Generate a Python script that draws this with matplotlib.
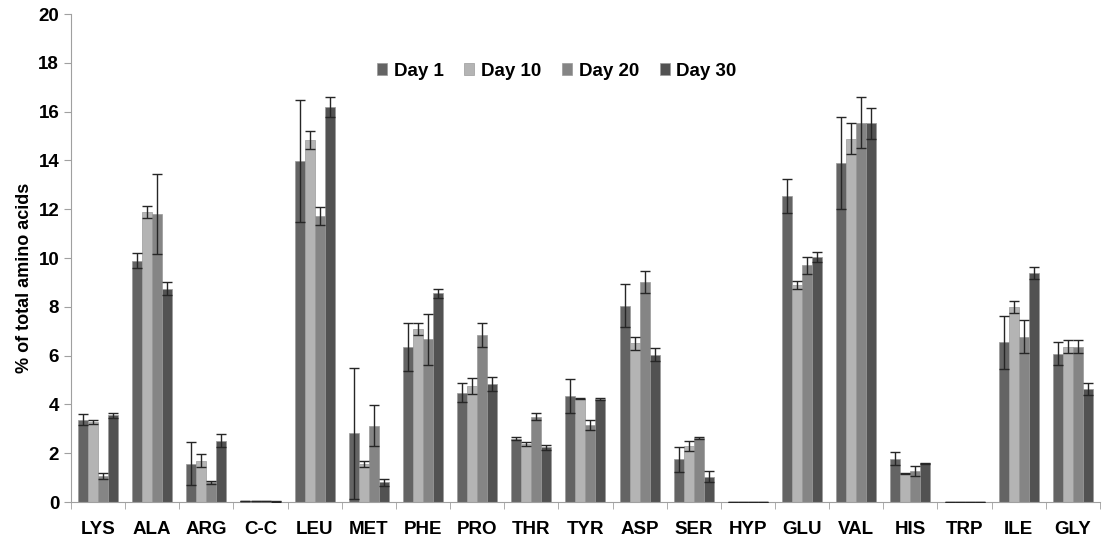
import numpy as np
import matplotlib
matplotlib.use("Agg")
from matplotlib import pyplot as plt

amino = ['LYS', 'ALA', 'ARG', 'C-C', 'LEU', 'MET', 'PHE', 'PRO', 'THR', 'TYR',
         'ASP', 'SER', 'HYP', 'GLU', 'VAL', 'HIS', 'TRP', 'ILE', 'GLY']

day1 = [3.38, 9.9, 1.57, 0.05, 13.98, 2.81, 6.37, 4.48, 2.6, 4.34,
        8.05, 1.75, 0.02, 12.54, 13.9, 1.78, 0.02, 6.54, 6.07]
day10 = [3.28, 11.9, 1.7, 0.05, 14.84, 1.55, 7.1, 4.75, 2.38, 4.23,
         6.5, 2.3, 0.02, 8.9, 14.9, 1.18, 0.02, 7.98, 6.37]
day20 = [1.08, 11.8, 0.8, 0.05, 11.72, 3.13, 6.67, 6.84, 3.5, 3.16,
         9.0, 2.63, 0.02, 9.71, 15.55, 1.28, 0.02, 6.78, 6.37]
day30 = [3.55, 8.75, 2.52, 0.03, 16.2, 0.8, 8.55, 4.84, 2.24, 4.23,
         6.04, 1.04, 0.02, 10.05, 15.52, 1.59, 0.02, 9.4, 4.62]

err1 = [0.24, 0.3, 0.88, 0.01, 2.5, 2.7, 0.98, 0.38, 0.05, 0.7,
        0.87, 0.52, 0.0, 0.7, 1.9, 0.28, 0.0, 1.1, 0.47]
err10 = [0.1, 0.25, 0.25, 0.01, 0.38, 0.12, 0.25, 0.32, 0.1, 0.02,
         0.25, 0.22, 0.0, 0.15, 0.65, 0.02, 0.0, 0.24, 0.27]
err20 = [0.12, 1.65, 0.05, 0.01, 0.38, 0.85, 1.05, 0.5, 0.15, 0.22,
         0.45, 0.03, 0.0, 0.35, 1.05, 0.2, 0.0, 0.68, 0.27]
err30 = [0.1, 0.28, 0.25, 0.01, 0.4, 0.15, 0.2, 0.3, 0.1, 0.03,
         0.27, 0.22, 0.0, 0.2, 0.65, 0.02, 0.0, 0.24, 0.24]

series = [('Day 1', day1, err1, '#646464'),
          ('Day 10', day10, err10, '#b4b4b4'),
          ('Day 20', day20, err20, '#858585'),
          ('Day 30', day30, err30, '#525252')]

plt.rcParams['font.family'] = ['Liberation Sans', 'DejaVu Sans']
plt.rcParams['font.weight'] = 'bold'

fig = plt.figure(figsize=(11.04, 5.43), dpi=100)
ax = fig.add_axes([0.0643, 0.0755, 0.932, 0.8985])

x = np.arange(len(amino))
w = 0.185
for i, (name, vals, errs, col) in enumerate(series):
    pos = x + (i - 1.5) * w
    ax.bar(pos, vals, width=w, color=col, edgecolor='#9a9a9a', linewidth=0.5,
           label=name, zorder=2)
    ax.errorbar(pos, vals, yerr=errs, fmt='none', ecolor='#262626',
                elinewidth=1.0, capsize=3.5, capthick=1.0, zorder=3)

ax.set_xlim(-0.5, len(amino) - 0.5)
ax.set_ylim(0, 20)
ax.set_yticks(np.arange(0, 21, 2))
ax.set_xticks(x)
ax.set_xticklabels(amino, fontsize=13.5, fontweight='bold')
ax.set_xticks(np.arange(-0.5, len(amino), 1), minor=True)
ax.tick_params(axis='x', which='major', length=0, pad=14)
ax.tick_params(axis='x', which='minor', length=5, color='#a0a0a0', direction='out')
ax.tick_params(axis='y', labelsize=13.5, length=5, color='#a0a0a0', direction='out')
for lbl in ax.get_yticklabels():
    lbl.set_fontweight('bold')

ax.spines['top'].set_visible(False)
ax.spines['right'].set_visible(False)
ax.spines['left'].set_color('#a0a0a0')
ax.spines['bottom'].set_color('#a0a0a0')

ax.set_ylabel('% of total amino acids', fontsize=13, fontweight='bold')
ax.yaxis.set_label_coords(-0.037, 0.46)

ax.legend(loc='center', bbox_to_anchor=(0.472, 0.883), ncol=4, frameon=False,
          prop={'size': 13.5, 'weight': 'bold'}, handlelength=0.55, handleheight=0.55,
          handletextpad=0.35, columnspacing=1.1)

plt.savefig('out.png', dpi=100)
